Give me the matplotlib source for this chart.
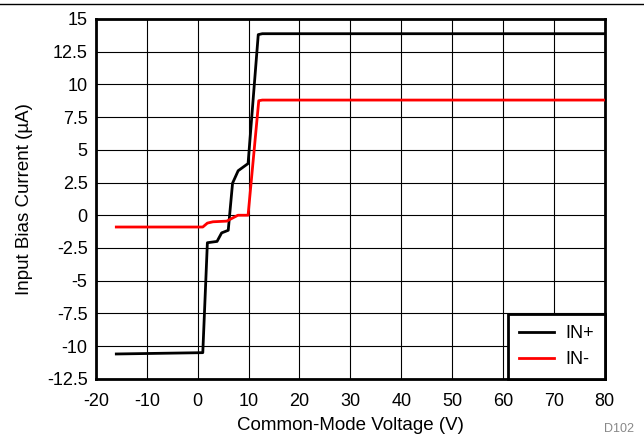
import matplotlib
matplotlib.use("Agg")
import matplotlib.pyplot as plt
from matplotlib.lines import Line2D

plt.rcParams.update({
    "font.family": ["Liberation Sans", "DejaVu Sans"],
    "axes.unicode_minus": False,
})

# IN+ (black) curve
in_plus_x = [-16, 1.0, 1.9, 3.8, 4.7, 6.0, 6.85, 7.95, 9.9, 11.9, 12.7, 80]
in_plus_y = [-10.6, -10.5, -2.1, -2.0, -1.35, -1.15, 2.45, 3.4, 3.95, 13.8, 13.87, 13.87]

# IN- (red) curve
in_minus_x = [-16, 1.0, 1.9, 3.0, 5.7, 7.9, 9.9, 12.0, 12.7, 80]
in_minus_y = [-0.9, -0.9, -0.6, -0.5, -0.45, 0.0, 0.0, 8.75, 8.8, 8.8]

x_ticks = list(range(-20, 81, 10))
y_ticks = [-12.5, -10, -7.5, -5, -2.5, 0, 2.5, 5, 7.5, 10, 12.5, 15]
y_labels = ["-12.5", "-10", "-7.5", "-5", "-2.5", "0", "2.5", "5", "7.5", "10", "12.5", "15"]

fig = plt.figure(figsize=(6.44, 4.4), dpi=100)
ax = fig.add_axes([0.149, 0.139, 0.790, 0.818])

ax.plot(in_plus_x, in_plus_y, color="black", lw=2, label="IN+", zorder=3)
ax.plot(in_minus_x, in_minus_y, color="#ff0000", lw=2, label="IN-", zorder=3)

ax.set_xlim(-20, 80)
ax.set_ylim(-12.5, 15)
ax.set_xticks(x_ticks)
ax.set_yticks(y_ticks)
ax.set_yticklabels(y_labels)
ax.tick_params(axis="x", length=0, labelsize=13, pad=10)
ax.tick_params(axis="y", length=0, labelsize=13, pad=6)
ax.grid(True, color="black", lw=0.8)
for s in ax.spines.values():
    s.set_linewidth(2)

ax.set_xlabel("Common-Mode Voltage (V)", fontsize=13.5, labelpad=5)
ax.set_ylabel("Input Bias Current (\u00b5A)", fontsize=13.5, labelpad=10)

leg = ax.legend(loc="lower right", fontsize=13, fancybox=False, framealpha=1,
                edgecolor="black", borderaxespad=0, handlelength=1.9,
                borderpad=0.6, labelspacing=0.5, handletextpad=0.65)
leg.get_frame().set_linewidth(2)

fig.add_artist(Line2D([0, 1], [0.99, 0.99], color="black", lw=1, transform=fig.transFigure))
fig.text(0.985, 0.012, "D102", fontsize=9, color="#888888", ha="right", va="bottom")

fig.savefig("out.png", dpi=100)
